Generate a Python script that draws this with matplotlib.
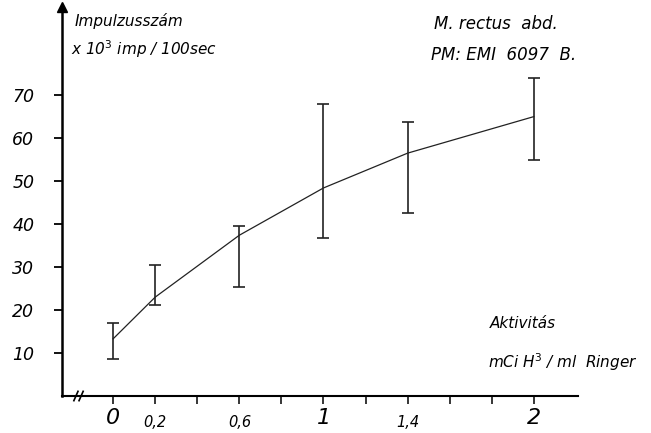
import numpy as np
import matplotlib.pyplot as plt

# activity (mCi H3 / ml Ringer) vs pulse count (x10^3 imp / 100 sec)
activity = [0, 0.2, 0.6, 1.0, 1.4, 2.0]
counts = [13.3, 23.0, 37.4, 48.4, 56.5, 65.0]
err_low = [8.6, 21.2, 25.3, 36.7, 42.6, 55.0]
err_high = [17.0, 30.5, 39.5, 68.0, 63.7, 74.0]

y_ticks = [10, 20, 30, 40, 50, 60, 70]
x_major = [0, 1, 2]
x_small = [0.2, 0.6, 1.4]
x_small_labels = ['0,2', '0,6', '1,4']
x_minor = [0.4, 0.8, 1.2, 1.6, 1.8]

fig = plt.figure(figsize=(6.51, 4.33), dpi=100)
ax = fig.add_axes([62/651, 37/433, 516/651, 389/433])
ax.set_xlim(-0.243, 2.21)
ax.set_ylim(0, 90.5)

counts = np.array(counts)
yerr = [counts - np.array(err_low), np.array(err_high) - counts]
ax.plot(activity, counts, color='#222222', lw=0.9)
ax.errorbar(activity, counts, yerr=yerr, fmt='none', ecolor='#222222',
            elinewidth=1.2, capsize=4, capthick=1.2)

# axes look like hand drawn: only left and bottom
for side in ['top', 'right']:
    ax.spines[side].set_visible(False)
ax.spines['left'].set_linewidth(1.8)
ax.spines['bottom'].set_linewidth(1.5)

tick_font = dict(family='DejaVu Sans', style='italic')
ax.set_yticks(y_ticks)
ax.set_yticklabels([str(v) for v in y_ticks], fontsize=12.5, **tick_font)
ax.tick_params(axis='y', direction='out', length=6, width=1.3, pad=14)

ax.set_xticks(x_major + x_small + x_minor)
ax.set_xticklabels([''] * (len(x_major) + len(x_small) + len(x_minor)))
ax.tick_params(axis='x', direction='out', length=6, width=1.1)
for v in x_major:
    ax.text(v, -2.8, str(v), fontsize=16, ha='center', va='top', **tick_font)
for v, lab in zip(x_small, x_small_labels):
    ax.text(v, -4.5, lab, fontsize=10.5, ha='center', va='top', **tick_font)

# arrow on top of the y axis
ax.plot(0, 1, marker='^', color='black', markersize=7, transform=ax.transAxes,
        clip_on=False)

# axis break marks
for dx in [0.027, 0.037]:
    ax.plot([dx - 0.004, dx + 0.004], [-0.012, 0.012], color='black', lw=1.2,
            transform=ax.transAxes, clip_on=False)

ax.text(0.024, 0.985, 'Impulzusszám', transform=ax.transAxes, fontsize=11,
        ha='left', va='top', **tick_font)
ax.text(0.018, 0.92, r'x 10$^{3}$ imp / 100sec', transform=ax.transAxes,
        fontsize=11, ha='left', va='top', **tick_font)
ax.text(0.72, 0.98, 'M. rectus  abd.', transform=ax.transAxes, fontsize=12,
        ha='left', va='top', **tick_font)
ax.text(0.715, 0.9, 'PM: EMI  6097  B.', transform=ax.transAxes, fontsize=12,
        ha='left', va='top', **tick_font)
ax.text(0.83, 0.205, 'Aktivitás', transform=ax.transAxes, fontsize=11,
        ha='left', va='top', **tick_font)
ax.text(0.825, 0.115, r'mCi H$^{3}$ / ml  Ringer', transform=ax.transAxes,
        fontsize=11, ha='left', va='top', **tick_font)

fig.savefig('out.png', dpi=100)
